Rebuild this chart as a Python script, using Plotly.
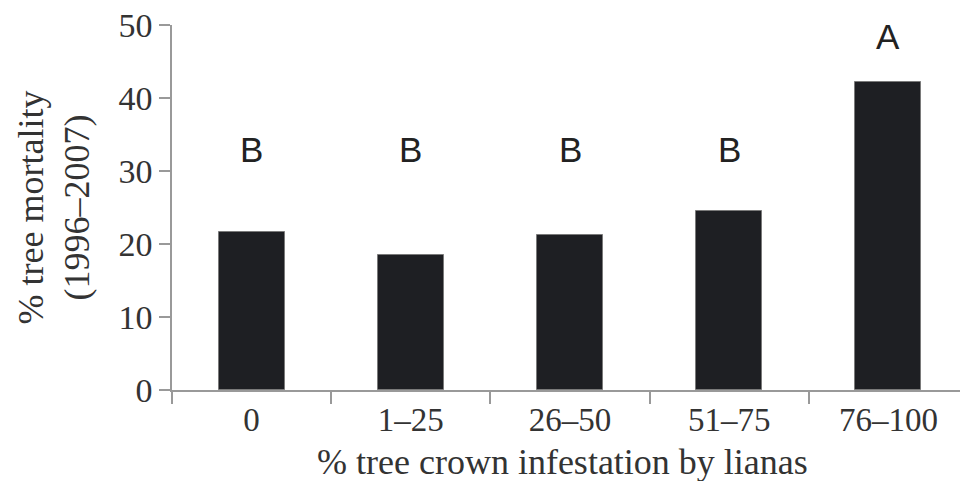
import plotly.graph_objects as go

categories = ["0", "1–25", "26–50", "51–75", "76–100"]
mortality = [21.6, 18.5, 21.2, 24.5, 42.2]
letters = ["B", "B", "B", "B", "A"]
letter_y = [33.0, 33.0, 33.0, 33.0, 48.4]
y_ticks = [0, 10, 20, 30, 40, 50]

fig = go.Figure()
fig.add_trace(go.Bar(
    x=categories, y=mortality, width=0.415,
    marker=dict(color="#1e1f23", line=dict(color="#7a7a7a", width=1)),
    showlegend=False, hoverinfo="skip",
))

for c, l, ly in zip(categories, letters, letter_y):
    fig.add_annotation(x=c, y=ly, text=l, showarrow=False, xref="x", yref="y",
                       yanchor="middle",
                       font=dict(family="Liberation Sans", size=35, color="#222222"))

serif = "Liberation Serif"
fig.add_annotation(xref="paper", yref="paper", x=0, y=0.5, xshift=-118,
                   text="% tree mortality<br>(1996–2007)", textangle=-90,
                   showarrow=False, xanchor="center", yanchor="middle",
                   font=dict(family=serif, size=36, color="#333333"))
fig.add_annotation(xref="paper", yref="paper", x=0.49, y=0, yshift=-72,
                   text="% tree crown infestation by lianas",
                   showarrow=False, xanchor="center", yanchor="middle",
                   font=dict(family=serif, size=36, color="#333333"))

fig.update_layout(
    width=960, height=473,
    margin=dict(l=164, r=0, t=17, b=91),
    plot_bgcolor="white", paper_bgcolor="white",
    xaxis=dict(type="category", tickson="boundaries", ticks="outside", ticklen=12,
               tickcolor="#999999", tickwidth=1.5,
               showline=True, linecolor="#999999", linewidth=1.5,
               showgrid=False, zeroline=False,
               tickfont=dict(family=serif, size=33, color="#333333"),
               range=[-0.5, 4.5]),
    yaxis=dict(range=[0, 50], tickvals=y_ticks, ticks="outside", ticklen=11,
               tickcolor="#999999", tickwidth=1.5,
               showline=True, linecolor="#999999", linewidth=1.5,
               showgrid=False, zeroline=False, ticklabeloverflow="allow",
               tickfont=dict(family=serif, size=34, color="#333333")),
    bargap=0,
)

fig.write_html("out.html")
